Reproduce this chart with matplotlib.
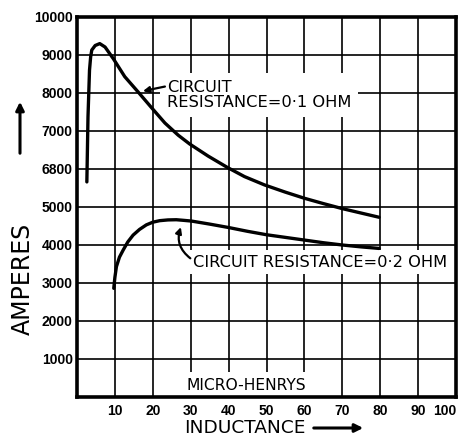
import matplotlib
matplotlib.use("Agg")
import matplotlib.pyplot as plt
from matplotlib.patches import FancyArrowPatch

# ---- data ----
ind_01 = [2.6, 2.9, 3.3, 3.6, 3.9, 4.8, 6.0, 7.4, 9.6, 12.6, 16.1, 19.7, 23.2, 26.7, 29.7,
          34.6, 39.7, 44.2, 49.5, 55.0, 60.0, 65.0, 69.9, 75.0, 79.7]
amp_01 = [5660, 7370, 8600, 8950, 9130, 9250, 9300, 9210, 8900, 8430, 8030, 7610, 7210, 6890, 6660,
          6340, 6040, 5800, 5580, 5390, 5230, 5090, 4960, 4840, 4730]

ind_02 = [9.7, 10.0, 10.4, 11.2, 12.2, 13.4, 14.8, 16.5, 18.3, 20.0, 21.8, 24.0, 26.2, 28.0,
          30.2, 35.0, 40.0, 45.0, 50.0, 55.0, 60.0, 65.0, 70.0, 75.0, 79.7]
amp_02 = [2860, 3150, 3430, 3680, 3870, 4080, 4260, 4410, 4530, 4600, 4640, 4660, 4665, 4650,
          4630, 4550, 4460, 4360, 4270, 4200, 4130, 4060, 4000, 3950, 3910]

x_ticks = [10, 20, 30, 40, 50, 60, 70, 80, 90, 100]
x_labels = ["10", "20", "30", "40", "50", "60", "70", "80", "90", "100"]
y_ticks = [1000, 2000, 3000, 4000, 5000, 6000, 7000, 8000, 9000, 10000]
y_labels = ["1000", "2000", "3000", "4000", "5000", "6800", "7000", "8000", "9000", "10000"]

label_01 = "CIRCUIT\nRESISTANCE=0·1 OHM"
label_02 = "CIRCUIT RESISTANCE=0·2 OHM"
x_title = "INDUCTANCE"
x_unit = "MICRO-HENRYS"
y_title = "AMPERES"

# ---- figure ----
fig = plt.figure(figsize=(4.64, 4.37), dpi=100)
ax = fig.add_axes([77/464, 1-397/437, 379/464, 380/437])

ax.set_xlim(0, 100)
ax.set_ylim(0, 10000)
ax.set_xticks(x_ticks)
ax.set_xticklabels(x_labels)
ax.set_yticks(y_ticks)
ax.set_yticklabels(y_labels)

for lab in ax.get_xticklabels() + ax.get_yticklabels():
    lab.set_fontfamily(["Liberation Sans", "DejaVu Sans"])
    lab.set_fontweight("bold")
    lab.set_fontsize(10)
ax.get_xticklabels()[-1].set_horizontalalignment("right")
ax.tick_params(axis="both", length=0)
ax.tick_params(axis="y", pad=3)
ax.tick_params(axis="x", pad=5)

ax.set_axisbelow(True)
ax.grid(True, color="black", linewidth=1.2)
for s in ax.spines.values():
    s.set_linewidth(2.6)
    s.set_zorder(10)

ax.plot(ind_01, amp_01, color="black", linewidth=2.4, solid_capstyle="round",
        solid_joinstyle="round", zorder=6)
ax.plot(ind_02, amp_02, color="black", linewidth=2.4, solid_capstyle="round",
        solid_joinstyle="round", zorder=6)

txt_font = ["DejaVu Sans"]
ax.text(23.7, 7950, label_01, ha="left", va="center", fontsize=11.7, family=txt_font,
        linespacing=0.95, zorder=4,
        bbox=dict(facecolor="white", edgecolor="none", pad=5))
ax.text(30.5, 3550, label_02, ha="left", va="center", fontsize=11.7, family=txt_font,
        zorder=4, bbox=dict(facecolor="white", edgecolor="none", pad=3))
ax.text(44.7, 310, x_unit, ha="center", va="center", fontsize=11.2, family=txt_font,
        zorder=4, bbox=dict(facecolor="white", edgecolor="none", pad=4))

# annotation arrows
ax.annotate("", xy=(17.4, 8050), xytext=(23.2, 8170),
            arrowprops=dict(arrowstyle="-|>", color="black", lw=1.6,
                            mutation_scale=9, shrinkA=0, shrinkB=0), zorder=7)
ax.annotate("", xy=(27.4, 4470), xytext=(29.9, 3650),
            arrowprops=dict(arrowstyle="-|>", color="black", lw=1.6,
                            mutation_scale=9, shrinkA=0, shrinkB=0,
                            connectionstyle="arc3,rad=-0.35"), zorder=7)

# axis titles
fig.text(23/464, 1-279/437, y_title, rotation=90, ha="center", va="center",
         fontsize=17, family=txt_font)
fig.text(245/464, 1-428/437, x_title, ha="center", va="center",
         fontsize=13.3, family=txt_font)
# direction arrows
fig.patches.append(FancyArrowPatch(
    (20/464, 1-156/437), (20/464, 1-99/437), transform=fig.transFigure,
    arrowstyle="-|>", mutation_scale=12, lw=2.2, color="black"))
fig.patches.append(FancyArrowPatch(
    (311/464, 1-428/437), (366/464, 1-428/437), transform=fig.transFigure,
    arrowstyle="-|>", mutation_scale=12, lw=2.2, color="black"))

fig.savefig("out.png", dpi=100, facecolor="white")
